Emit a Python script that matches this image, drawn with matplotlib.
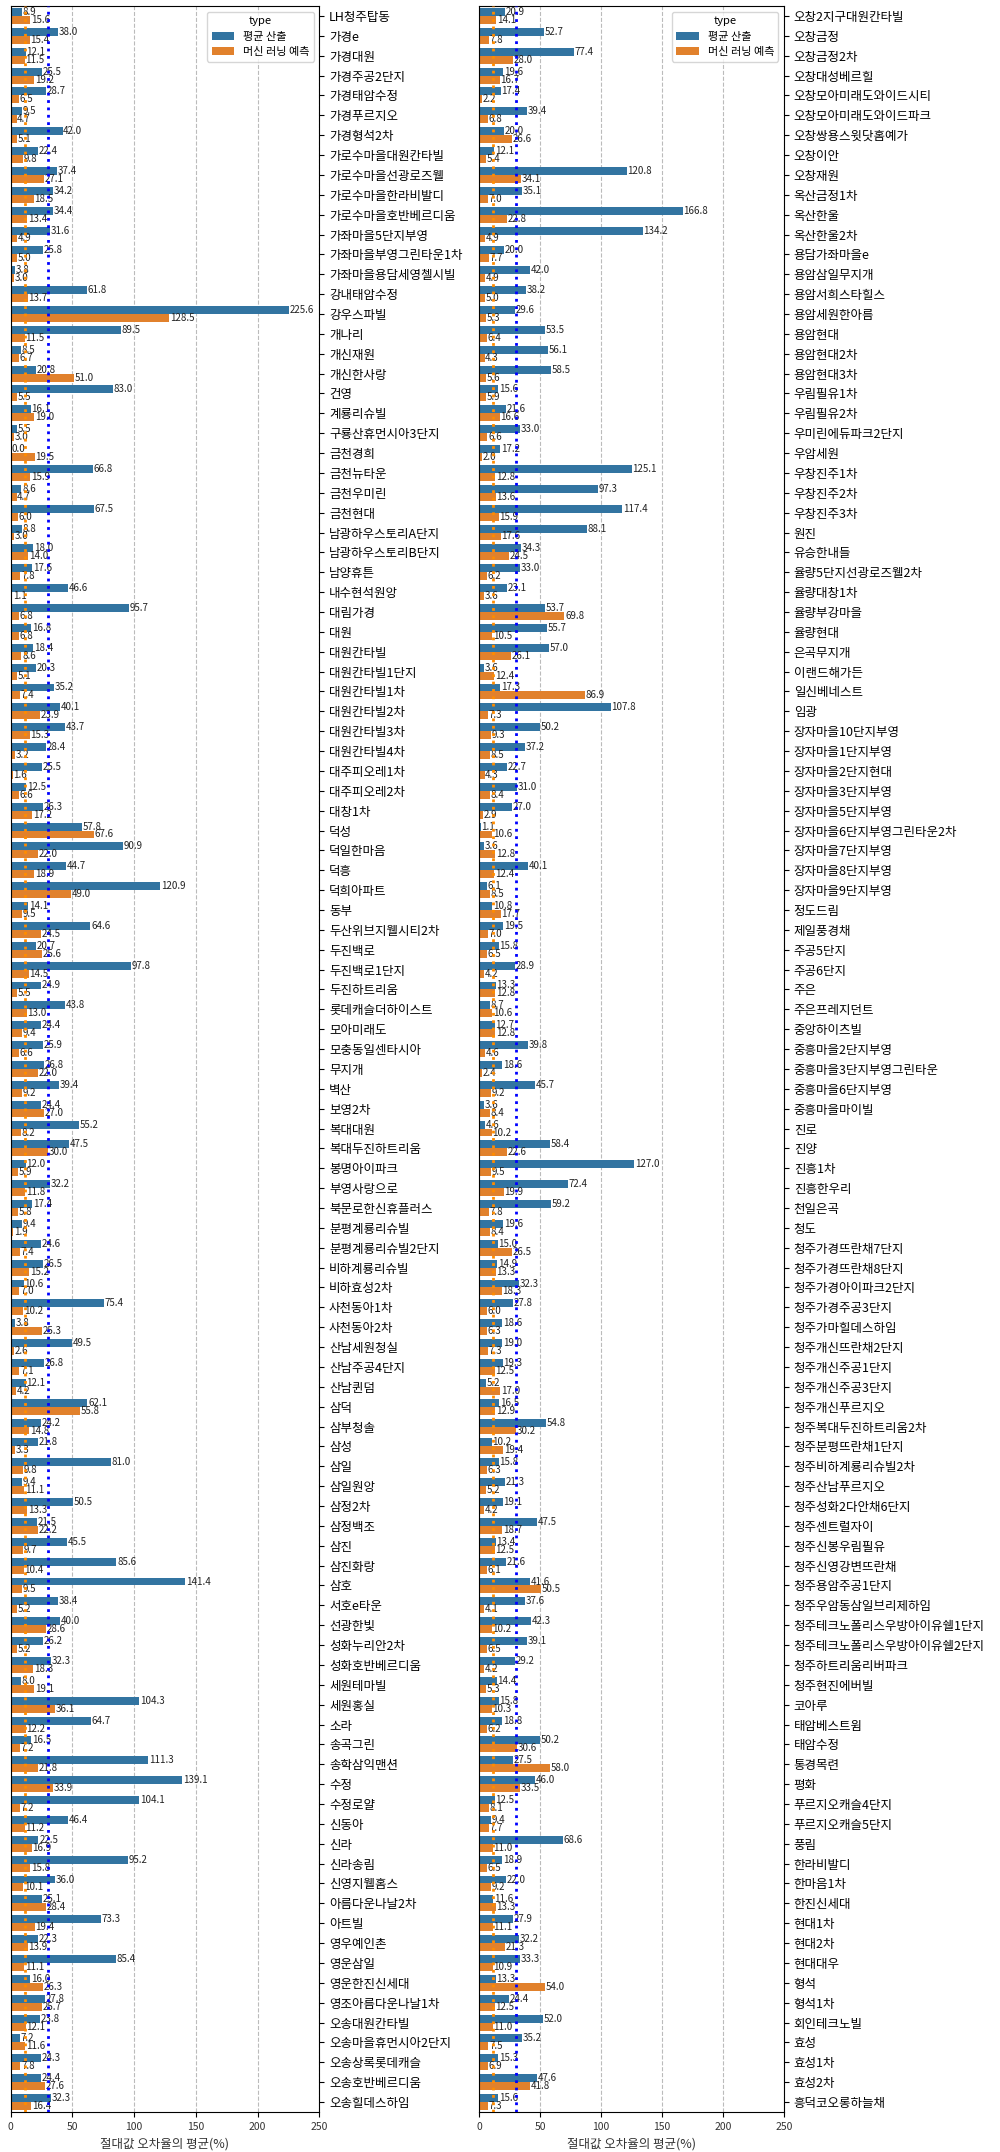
import numpy as np
import matplotlib
matplotlib.use('Agg')
from matplotlib import pyplot as plt

# left panel
left_names = [
    'LH청주탑동', '가경e', '가경대원', '가경주공2단지', '가경태암수정', '가경푸르지오', '가경형석2차',
    '가로수마을대원칸타빌', '가로수마을선광로즈웰', '가로수마을한라비발디', '가로수마을호반베르디움',
    '가좌마을5단지부영', '가좌마을부영그린타운1차', '가좌마을용담세영첼시빌', '강내태암수정', '강우스파빌',
    '개나리', '개신재원', '개신한사랑', '건영', '계룡리슈빌', '구룡산휴먼시아3단지', '금천경희', '금천뉴타운',
    '금천우미린', '금천현대', '남광하우스토리A단지', '남광하우스토리B단지', '남양휴튼', '내수현석원앙',
    '대림가경', '대원', '대원칸타빌', '대원칸타빌1단지', '대원칸타빌1차', '대원칸타빌2차', '대원칸타빌3차',
    '대원칸타빌4차', '대주피오레1차', '대주피오레2차', '대창1차', '덕성', '덕일한마음', '덕흥', '덕희아파트',
    '동부', '두산위브지웰시티2차', '두진백로', '두진백로1단지', '두진하트리움', '롯데캐슬더하이스트',
    '모아미래도', '모충동일센타시아', '무지개', '벽산', '보영2차', '복대대원', '복대두진하트리움',
    '봉명아이파크', '부영사랑으로', '북문로한신휴플러스', '분평계룡리슈빌', '분평계룡리슈빌2단지',
    '비하계룡리슈빌', '비하효성2차', '사천동아1차', '사천동아2차', '산남세원청실', '산남주공4단지', '산남퀸덤',
    '삼덕', '삼부청솔', '삼성', '삼일', '삼일원앙', '삼정2차', '삼정백조', '삼진', '삼진화랑', '삼호',
    '서호e타운', '선광한빛', '성화누리안2차', '성화호반베르디움', '세원테마빌', '세원홍실', '소라', '송곡그린',
    '송학삼익맨션', '수정', '수정로얄', '신동아', '신라', '신라송림', '신영지웰홈스', '아름다운나날2차',
    '아트빌', '영우예인촌', '영운삼일', '영운한진신세대', '영조아름다운나날1차', '오송대원칸타빌',
    '오송마을휴먼시아2단지', '오송상록롯데캐슬', '오송호반베르디움', '오송힐데스하임',
]
left_avg = [
    8.9, 38.0, 12.1, 25.5, 28.7, 9.5, 42.0, 22.4, 37.4, 34.2, 34.4, 31.6, 25.8, 3.8, 61.8, 225.6,
    89.5, 8.5, 20.8, 83.0, 16.1, 5.5, 0.0, 66.8, 8.6, 67.5, 8.8, 18.0, 17.6, 46.6,
    95.7, 16.8, 18.4, 20.3, 35.2, 40.1, 43.7, 28.4, 25.5, 12.5, 26.3, 57.8, 90.9, 44.7, 120.9,
    14.1, 64.6, 20.7, 97.8, 24.9, 43.8, 24.4, 25.9, 26.8, 39.4, 24.4, 55.2, 47.5,
    12.0, 32.2, 17.4, 9.4, 24.6, 26.5, 10.6, 75.4, 3.8, 49.5, 26.8, 12.1,
    62.1, 24.2, 21.8, 81.0, 9.4, 50.5, 21.5, 45.5, 85.6, 141.4,
    38.4, 40.0, 26.2, 32.3, 8.0, 104.3, 64.7, 16.5, 111.3, 139.1, 104.1, 46.4, 22.5, 95.2, 36.0, 25.1,
    73.3, 22.3, 85.4, 16.0, 27.8, 23.8, 7.2, 24.3, 24.4, 32.3,
]
left_ml = [
    15.6, 15.4, 11.5, 19.2, 6.5, 4.7, 5.1, 9.8, 27.1, 18.5, 13.4, 4.9, 5.0, 3.0, 13.7, 128.5,
    11.5, 6.7, 51.0, 5.5, 19.0, 3.0, 19.5, 15.9, 4.7, 6.0, 3.0, 14.0, 7.8, 1.1,
    6.8, 6.8, 8.6, 5.1, 7.4, 23.9, 15.3, 3.2, 1.6, 6.6, 17.2, 67.6, 22.0, 18.9, 49.0,
    9.5, 24.5, 25.6, 14.5, 5.5, 13.0, 9.4, 6.6, 22.0, 9.2, 27.0, 8.2, 30.0,
    5.9, 11.8, 5.8, 1.9, 7.4, 15.2, 7.0, 10.2, 25.3, 2.6, 7.1, 4.2,
    55.8, 14.8, 3.3, 9.8, 11.1, 13.3, 22.2, 9.7, 10.4, 9.5,
    5.2, 28.6, 5.2, 18.3, 19.1, 36.1, 12.2, 7.2, 21.8, 33.9, 7.2, 11.2, 16.9, 15.8, 10.1, 28.4,
    19.4, 13.9, 11.1, 26.3, 25.7, 12.1, 11.6, 7.8, 27.6, 16.4,
]

# right panel
right_names = [
    '오창2지구대원칸타빌', '오창금정', '오창금정2차', '오창대성베르힐', '오창모아미래도와이드시티',
    '오창모아미래도와이드파크', '오창쌍용스윗닷홈예가', '오창이안', '오창재원', '옥산금정1차', '옥산한울',
    '옥산한울2차', '용담가좌마을e', '용암삼일무지개', '용암서희스타힐스', '용암세원한아름', '용암현대',
    '용암현대2차', '용암현대3차', '우림필유1차', '우림필유2차', '우미린에듀파크2단지', '우암세원',
    '우창진주1차', '우창진주2차', '우창진주3차', '원진', '유승한내들', '율량5단지선광로즈웰2차', '율량대창1차',
    '율량부강마을', '율량현대', '은곡무지개', '이랜드해가든', '일신베네스트', '임광', '장자마을10단지부영',
    '장자마을1단지부영', '장자마을2단지현대', '장자마을3단지부영', '장자마을5단지부영',
    '장자마을6단지부영그린타운2차', '장자마을7단지부영', '장자마을8단지부영', '장자마을9단지부영', '정도드림',
    '제일풍경채', '주공5단지', '주공6단지', '주은', '주은프레지던트', '중앙하이츠빌', '중흥마을2단지부영',
    '중흥마을3단지부영그린타운', '중흥마을6단지부영', '중흥마을마이빌', '진로', '진양', '진흥1차', '진흥한우리',
    '천일은곡', '청도', '청주가경뜨란채7단지', '청주가경뜨란채8단지', '청주가경아이파크2단지',
    '청주가경주공3단지', '청주가마힐데스하임', '청주개신뜨란채2단지', '청주개신주공1단지', '청주개신주공3단지',
    '청주개신푸르지오', '청주복대두진하트리움2차', '청주분평뜨란채1단지', '청주비하계룡리슈빌2차',
    '청주산남푸르지오', '청주성화2다안채6단지', '청주센트럴자이', '청주신봉우림필유', '청주신영강변뜨란채',
    '청주용암주공1단지', '청주우암동삼일브리제하임', '청주테크노폴리스우방아이유쉘1단지',
    '청주테크노폴리스우방아이유쉘2단지', '청주하트리움리버파크', '청주현진에버빌', '코아루', '태암베스트윔',
    '태암수정', '통경목련', '평화', '푸르지오캐슬4단지', '푸르지오캐슬5단지', '풍림', '한라비발디',
    '한마음1차', '한진신세대', '현대1차', '현대2차', '현대대우', '형석', '형석1차', '회인테크노빌', '효성',
    '효성1차', '효성2차', '흥덕코오롱하늘채',
]
right_avg = [
    20.9, 52.7, 77.4, 19.6, 17.4, 39.4, 20.0, 12.1, 120.8, 35.1, 166.8, 134.2, 20.0, 42.0, 38.2, 29.6,
    53.5, 56.1, 58.5, 15.6, 21.6, 33.0, 17.2, 125.1, 97.3, 117.4, 88.1, 34.3, 33.0, 23.1,
    53.7, 55.7, 57.0, 3.6, 17.3, 107.8, 50.2, 37.2, 22.7, 31.0, 27.0, 1.1, 3.6, 40.1, 6.1, 10.8,
    19.5, 15.8, 28.9, 13.3, 8.7, 12.7, 39.8, 18.6, 45.7, 3.6, 4.6, 58.4, 127.0, 72.4,
    59.2, 19.6, 15.0, 14.9, 32.3, 27.8, 18.6, 19.0, 19.3, 5.2,
    16.5, 54.8, 10.2, 15.8, 21.3, 19.1, 47.5, 13.4, 21.6, 41.6, 37.6, 42.3, 39.1, 29.2, 14.4, 15.8, 18.8,
    50.2, 27.5, 46.0, 12.5, 9.4, 68.6, 18.9, 22.0, 11.6, 27.9, 32.2, 33.3, 13.3, 24.4, 52.0, 35.2,
    15.3, 47.6, 15.6,
]
right_ml = [
    14.1, 7.8, 28.0, 16.7, 2.2, 6.8, 26.6, 5.4, 34.1, 7.0, 22.8, 4.9, 7.7, 4.9, 5.0, 5.3,
    6.4, 4.3, 5.6, 5.9, 16.6, 6.6, 2.0, 12.8, 13.6, 15.9, 17.6, 24.5, 6.2, 3.6,
    69.8, 10.5, 26.1, 12.4, 86.9, 7.3, 9.3, 8.5, 4.3, 8.4, 2.9, 10.6, 12.8, 12.4, 8.5, 17.7,
    7.0, 6.5, 4.2, 12.8, 10.6, 12.8, 4.6, 2.4, 9.2, 8.4, 10.2, 22.6, 9.5, 19.9,
    7.8, 8.4, 26.5, 13.3, 18.3, 6.0, 6.3, 7.3, 12.5, 17.0,
    12.9, 30.2, 19.4, 6.3, 5.2, 4.2, 18.7, 12.5, 6.1, 50.5, 4.1, 10.2, 6.5, 4.2, 5.3, 10.3, 6.2,
    30.6, 58.0, 33.5, 8.1, 7.7, 11.0, 6.5, 9.2, 13.3, 11.1, 21.3, 10.9, 54.0, 12.5, 11.0, 7.5,
    6.9, 41.8, 7.3,
]

# reference lines
avg_line = 30.5
ml_line = 11.4

plt.rcParams['font.family'] = ['Noto Sans CJK KR', 'DejaVu Sans']

BLUE = '#3274a1'
ORANGE = '#e1812c'


def draw_panel(ax, names, avg, ml):
    y = np.arange(len(names))
    h = 0.4
    b1 = ax.barh(y - h / 2, avg, height=h, color=BLUE, label='평균 산출', zorder=2)
    b2 = ax.barh(y + h / 2, ml, height=h, color=ORANGE, label='머신 러닝 예측', zorder=2)
    ax.bar_label(b1, fmt='%.1f', fontsize=7, padding=0.5, color='#222222')
    ax.bar_label(b2, fmt='%.1f', fontsize=7, padding=0.5, color='#222222')
    ax.axvline(avg_line, color='blue', linestyle=':', linewidth=2, zorder=3)
    ax.axvline(ml_line, color='darkorange', linestyle=':', linewidth=2, zorder=3)

    ax.set_xlim(0, 250)
    ax.set_ylim(len(names) - 0.5, -0.5)
    ax.set_yticks(y)
    ax.set_yticklabels(names, fontsize=9)
    ax.yaxis.tick_right()
    ax.tick_params(axis='x', labelsize=7.5, labelcolor='#333333')
    ax.grid(axis='x', linestyle='--', color='#bbbbbb', linewidth=0.8)
    ax.set_axisbelow(True)
    ax.set_xlabel('절대값 오차율의 평균(%)', fontsize=9, color='#333333')
    ax.legend(title='type', loc='upper right', fontsize=8, title_fontsize=8)


fig = plt.figure(figsize=(10, 21.52), dpi=100)
ax_left = fig.add_axes([0.0107, 0.0186, 0.3086, 0.9786])
ax_right = fig.add_axes([0.4793, 0.0186, 0.3047, 0.9786])

draw_panel(ax_left, left_names, left_avg, left_ml)
draw_panel(ax_right, right_names, right_avg, right_ml)

fig.savefig('out.png', dpi=100)
